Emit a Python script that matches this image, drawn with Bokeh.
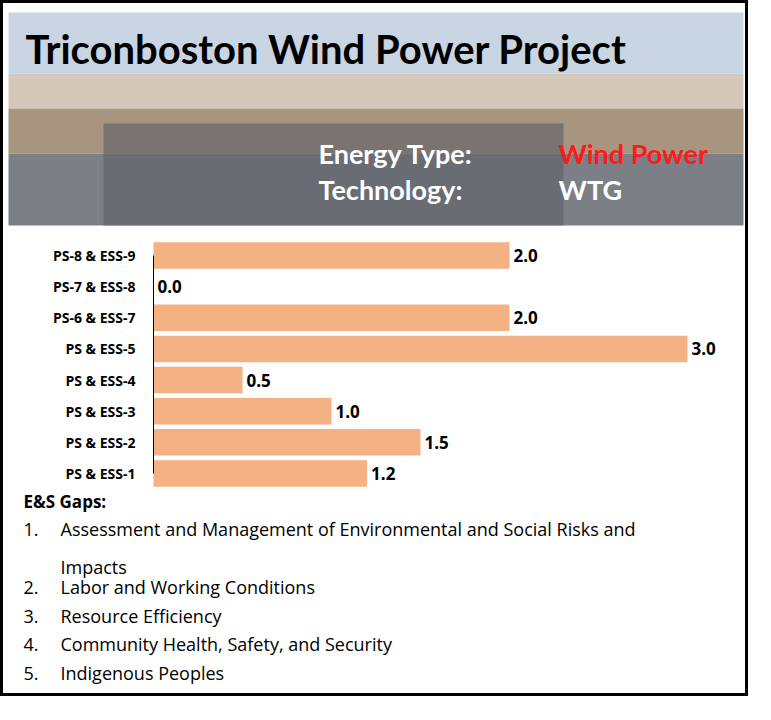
from bokeh.plotting import figure
from bokeh.layouts import column
from bokeh.models import Range1d, ColumnDataSource
from bokeh.core.properties import value
from bokeh.embed import file_html
from bokeh.resources import INLINE

title = "Triconboston Wind Power Project"
energy_type = "Wind Power"
technology = "WTG"
categories = ["PS & ESS-1", "PS & ESS-2", "PS & ESS-3", "PS & ESS-4",
              "PS & ESS-5", "PS-6 & ESS-7", "PS-7 & ESS-8", "PS-8 & ESS-9"]
gaps = [1.2, 1.5, 1.0, 0.5, 3.0, 2.0, 0.0, 2.0]
gap_items = ["Assessment and Management of Environmental and Social Risks and\nImpacts",
             "Labor and Working Conditions", "Resource Efficiency",
             "Community Health, Safety, and Security", "Indigenous Peoples"]

W = 742
FONT = value("Open Sans")

# banner (stand-in for the photo)
b = figure(width=W, height=234, output_backend="svg", toolbar_location=None,
           x_range=Range1d(0, W), y_range=Range1d(234, 0), min_border=0)
b.axis.visible = False
b.grid.visible = False
b.outline_line_color = None
b.background_fill_color = "white"
b.quad(left=[5, 5, 5, 5], right=[W - 2] * 4, top=[9, 70, 105, 150],
       bottom=[70, 105, 150, 222],
       fill_color=["#c9d5e2", "#d3c8ba", "#a8957f", "#7d7f86"], line_color=None)
b.quad(left=[100], right=[560], top=[120], bottom=[222], fill_color="#5c5f66",
       fill_alpha=0.6, line_color=None)
b.text(x=[22], y=[45], text=[title], text_font=value("Lato"), text_font_style="bold",
       text_font_size="40px", text_color="black", text_baseline="middle")
b.text(x=[315, 315, 555, 555], y=[150, 186, 150, 186],
       text=["Energy Type:", "Technology:", energy_type, technology],
       text_color=["white", "white", "#ff1a1a", "white"], text_font=value("Lato"),
       text_font_style="bold", text_font_size="27px", text_baseline="middle")

# bars: x range starts negative so the category labels sit inside the frame
UNIT = 178.0
src = ColumnDataSource(dict(cat=categories, val=gaps, lab=["%.1f" % v for v in gaps]))
p = figure(width=W, height=254, output_backend="svg", toolbar_location=None,
           y_range=categories, x_range=Range1d(-150 / UNIT, (W - 150) / UNIT),
           min_border=0)
p.hbar(y="cat", right="val", height=0.85, source=src, fill_color="#f4b183", line_color=None)
p.text(x="val", y="cat", text="lab", source=src, x_offset=4, text_baseline="middle",
       text_font=FONT, text_font_style="bold", text_font_size="17px")
p.text(x=0, y="cat", text="cat", source=src, x_offset=-18, text_align="right",
       text_baseline="middle", text_font=FONT, text_font_style="bold",
       text_font_size="14px")
p.segment(x0=[0], x1=[0], y0=[categories[0]], y1=[categories[-1]], line_color="black",
          line_width=1)
p.axis.visible = False
p.grid.visible = False
p.outline_line_color = None
p.y_range.range_padding = 0.02

# gap list
t = figure(width=W, height=202, output_backend="svg", toolbar_location=None,
           x_range=Range1d(0, W), y_range=Range1d(202, 0), min_border=0)
t.axis.visible = False
t.grid.visible = False
t.outline_line_color = None
t.text(x=[20], y=[10], text=["E&S Gaps:"], text_font=FONT, text_font_style="bold",
       text_font_size="17px", text_baseline="middle")
ys = [38, 96, 125, 153, 182]
t.text(x=[20] * 5, y=ys, text=["%d." % (i + 1) for i in range(5)], text_font=FONT,
       text_font_size="18px", text_baseline="middle")
t.text(x=[57] * 5, y=[y - 13 for y in ys], text=gap_items, text_font=FONT,
       text_font_size="18px", text_baseline="top", text_line_height=1.6)

layout = column(b, p, t, spacing=0, styles={"border": "3px solid black"})
open("out.html", "w").write(file_html(layout, INLINE))
